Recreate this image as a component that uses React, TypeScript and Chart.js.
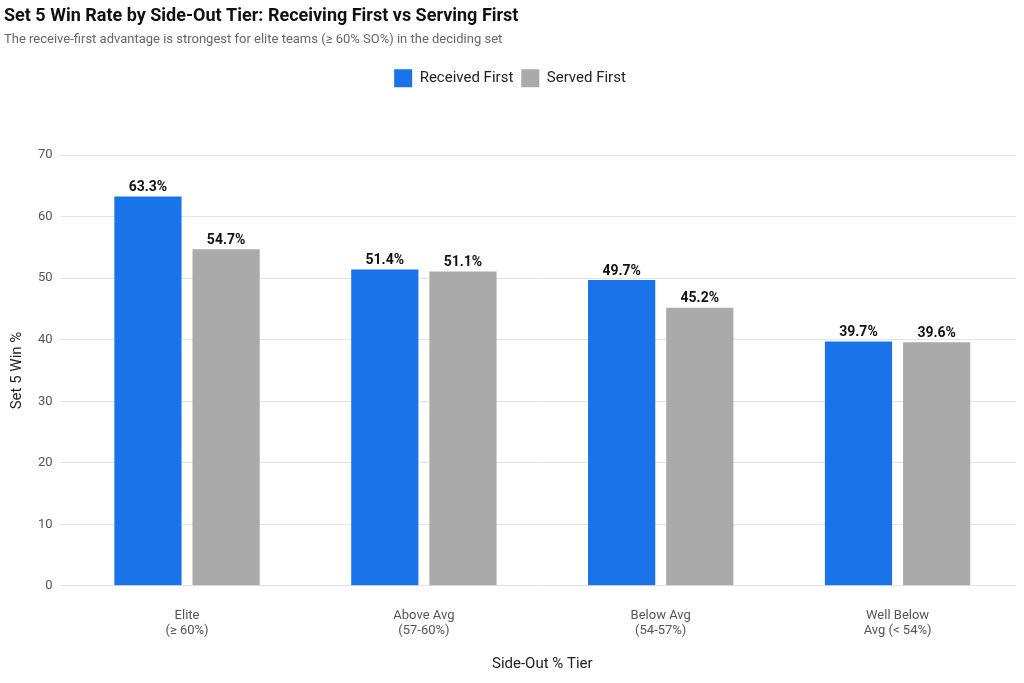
import React, { useEffect, useRef } from "react";
import { Chart, registerables } from "chart.js";
Chart.register(...registerables);

const categories = [["Elite", "(≥ 60%)"], ["Above Avg", "(57-60%)"], ["Below Avg", "(54-57%)"], ["Well Below", "Avg (< 54%)"]];
const receivedFirst = [63.3, 51.4, 49.7, 39.7];
const servedFirst = [54.7, 51.1, 45.2, 39.6];
const yTicks = [0, 10, 20, 30, 40, 50, 60, 70];

const labelPlugin = {
  id: "barLabels",
  afterDatasetsDraw(chart: any) {
    const ctx = chart.ctx;
    ctx.save();
    ctx.font = "bold 14px Roboto, 'Liberation Sans', sans-serif";
    ctx.fillStyle = "#111";
    ctx.textAlign = "center";
    ctx.textBaseline = "bottom";
    chart.data.datasets.forEach((ds: any, i: number) => {
      chart.getDatasetMeta(i).data.forEach((bar: any, j: number) => {
        ctx.fillText(ds.data[j].toFixed(1) + "%", bar.x, bar.y - 2);
      });
    });
    ctx.restore();
  },
};

export default function App() {
  const ref = useRef<HTMLCanvasElement>(null);
  useEffect(() => {
    const font = "Roboto, 'Liberation Sans', sans-serif";
    const chart = new Chart(ref.current!, {
      type: "bar",
      data: {
        labels: categories as any,
        datasets: [
          { label: "Received First", data: receivedFirst, backgroundColor: "#1a73e8", categoryPercentage: 0.66, barPercentage: 0.86 },
          { label: "Served First", data: servedFirst, backgroundColor: "#aaaaaa", categoryPercentage: 0.66, barPercentage: 0.86 },
        ],
      },
      options: {
        animation: false,
        responsive: false,
        layout: { padding: { left: 4, right: 8, top: 4, bottom: 6 } },
        plugins: {
          title: { display: true, text: "Set 5 Win Rate by Side-Out Tier: Receiving First vs Serving First", align: "start", color: "#111", font: { family: font, size: 18, weight: "bold" }, padding: { top: 2, bottom: 4 } },
          subtitle: { display: true, text: "The receive-first advantage is strongest for elite teams (≥ 60% SO%) in the deciding set", align: "start", color: "#666", font: { family: font, size: 13 }, padding: { bottom: 14 } },
          legend: { labels: { boxWidth: 18, boxHeight: 18, color: "#222", font: { family: font, size: 15 }, padding: 8 } },
          tooltip: { enabled: false },
        },
        scales: {
          x: {
            grid: { display: false },
            border: { display: false },
            ticks: { color: "#555", font: { family: font, size: 13 }, padding: 14 },
            title: { display: true, text: "Side-Out % Tier", color: "#222", font: { family: font, size: 15 }, padding: { top: 2 } },
          },
          y: {
            min: 0, max: 70,
            afterBuildTicks: (ax: any) => { ax.ticks = yTicks.map((v) => ({ value: v })); },
            grid: { color: "#e3e3e3" },
            border: { display: false },
            ticks: { color: "#555", font: { family: font, size: 13 }, padding: 8 },
            title: { display: true, text: "Set 5 Win %", color: "#222", font: { family: font, size: 15 } },
          },
        },
      },
      plugins: [labelPlugin, {
        id: "legendGap",
        beforeInit(c: any) {
          const orig = c.legend.fit;
          c.legend.fit = function () { orig.call(this); this.height += 58; };
        },
      }],
    });
    return () => chart.destroy();
  }, []);
  return (
    <div style={{ position: "fixed", left: 0, top: 0, width: 1024, height: 683, background: "#fff" }}>
      <canvas ref={ref} width={1024} height={683} style={{ width: 1024, height: 683 }} />
    </div>
  );
}
